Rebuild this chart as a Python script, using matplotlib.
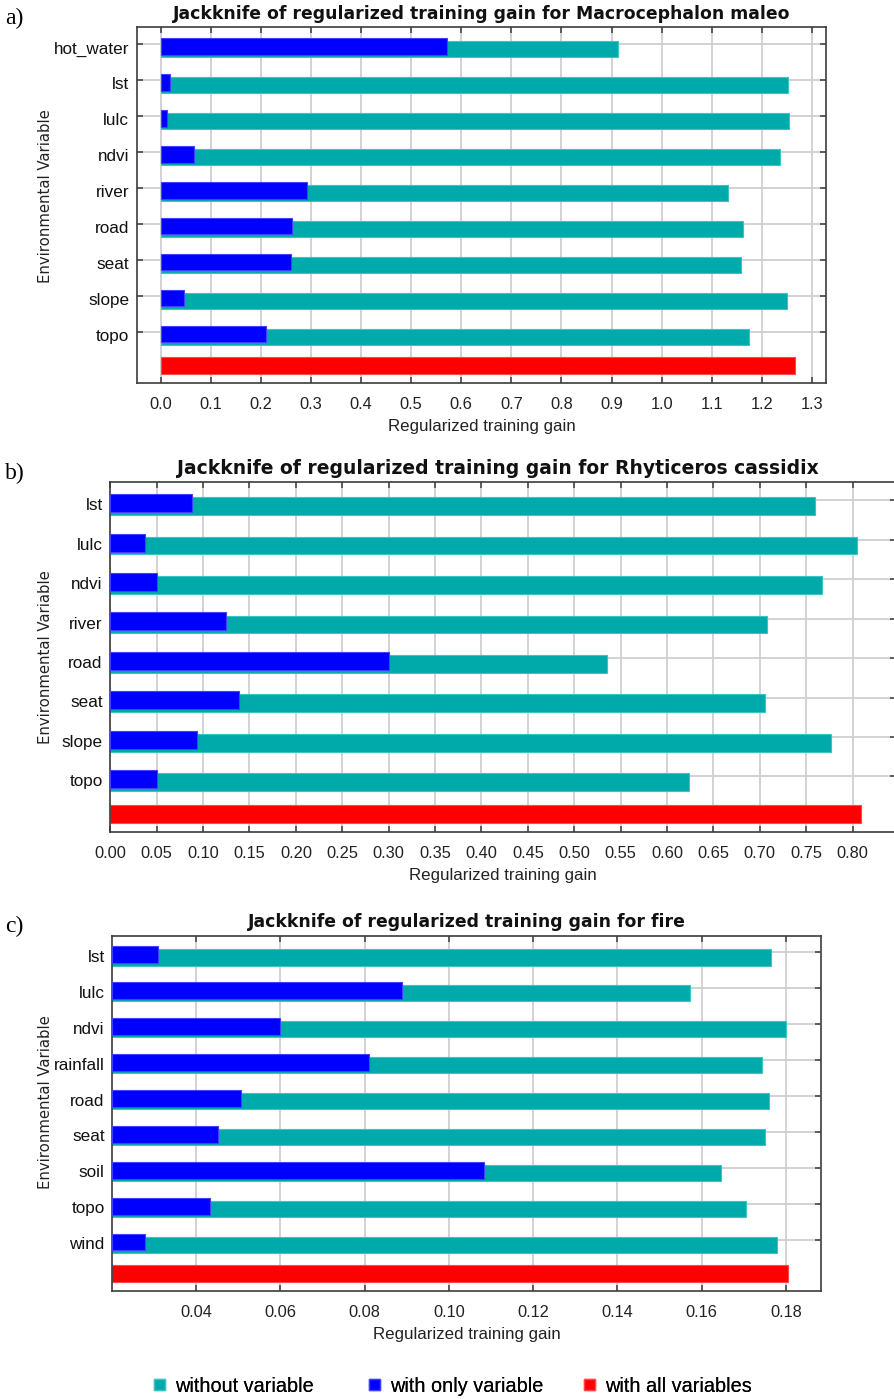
import matplotlib
matplotlib.use("Agg")
import matplotlib.pyplot as plt
from matplotlib.patches import Patch

# ---------------- data ----------------
vars_a = ["hot_water", "lst", "lulc", "ndvi", "river", "road", "seat", "slope", "topo"]
without_a = [0.912, 1.253, 1.255, 1.236, 1.133, 1.162, 1.158, 1.250, 1.175]
only_a = [0.571, 0.018, 0.013, 0.066, 0.293, 0.262, 0.260, 0.046, 0.210]
all_a = 1.266
ticks_a = [0.0, 0.1, 0.2, 0.3, 0.4, 0.5, 0.6, 0.7, 0.8, 0.9, 1.0, 1.1, 1.2, 1.3]
ticklabels_a = ["0.0", "0.1", "0.2", "0.3", "0.4", "0.5", "0.6", "0.7", "0.8", "0.9",
                "1.0", "1.1", "1.2", "1.3"]
title_a = "Jackknife of regularized training gain for Macrocephalon maleo"

vars_b = ["lst", "lulc", "ndvi", "river", "road", "seat", "slope", "topo"]
without_b = [0.759, 0.805, 0.767, 0.708, 0.535, 0.705, 0.777, 0.624]
only_b = [0.088, 0.037, 0.050, 0.125, 0.300, 0.139, 0.093, 0.050]
all_b = 0.809
ticks_b = [0.00, 0.05, 0.10, 0.15, 0.20, 0.25, 0.30, 0.35, 0.40, 0.45, 0.50, 0.55,
           0.60, 0.65, 0.70, 0.75, 0.80]
ticklabels_b = ["0.00", "0.05", "0.10", "0.15", "0.20", "0.25", "0.30", "0.35", "0.40",
                "0.45", "0.50", "0.55", "0.60", "0.65", "0.70", "0.75", "0.80"]
title_b = "Jackknife of regularized training gain for Rhyticeros cassidix"

vars_c = ["lst", "lulc", "ndvi", "rainfall", "road", "seat", "soil", "topo", "wind"]
without_c = [0.1765, 0.1573, 0.1799, 0.1742, 0.1760, 0.1749, 0.1645, 0.1706, 0.1778]
only_c = [0.0310, 0.0889, 0.0598, 0.0810, 0.0506, 0.0451, 0.1084, 0.0432, 0.0279]
all_c = 0.1804
ticks_c = [0.04, 0.06, 0.08, 0.10, 0.12, 0.14, 0.16, 0.18]
ticklabels_c = ["0.04", "0.06", "0.08", "0.10", "0.12", "0.14", "0.16", "0.18"]
title_c = "Jackknife of regularized training gain for fire"

legend_labels = ["without variable", "with only variable", "with all variables"]

# ---------------- style ----------------
TEAL = "#00AAAA"
TEAL_EDGE = "#3CC4C4"
BLUE = "#0000FF"
BLUE_EDGE = "#4040FF"
RED = "#FF0000"
RED_EDGE = "#FF4848"
GRID = "#CFCFCF"
FRAME = "#3C3C3C"
SANS = ["Liberation Sans", "DejaVu Sans"]

W, H = 894, 1399
fig = plt.figure(figsize=(W / 100, H / 100), dpi=100)


def rect(l, r, t, b):
    return [l / W, 1 - b / H, (r - l) / W, (b - t) / H]


def panel(box, names, without, only, allv, ticks, ticklabels, xlim, title,
          title_size, title_x, letter, ylab_x, ylab_y):
    ax = fig.add_axes(rect(*box))
    n = len(names)
    pos = list(range(n))
    base = xlim[0] if xlim[0] > 0 else 0.0
    ax.barh([p + 0.145 for p in pos], [v - base for v in without], left=base,
            height=0.45, color=TEAL, edgecolor=TEAL_EDGE, linewidth=0.8, zorder=2)
    ax.barh([p + 0.07 for p in pos], [v - base for v in only], left=base,
            height=0.46, color=BLUE, edgecolor=BLUE_EDGE, linewidth=0.8, zorder=3)
    ax.barh([n - 1 + 0.947], [allv - base], left=base, height=0.46,
            color=RED, edgecolor=RED_EDGE, linewidth=0.8, zorder=2)
    ax.set_xlim(*xlim)
    ax.set_ylim(n - 1 + 1.42, -0.46)
    # labels sit slightly below the tick marks, as in the original
    ax.set_yticks([p + 0.1 for p in pos])
    ax.set_yticklabels(names, fontsize=12.3, family=SANS, color="#111111")
    ax.set_yticks(pos, minor=True)
    ax.set_xticks(ticks)
    ax.set_xticklabels(ticklabels, fontsize=11.8, family=SANS, color="#222222")
    ax.grid(True, axis="x", color=GRID, linewidth=1.3, zorder=0)
    ax.grid(True, axis="y", which="minor", color=GRID, linewidth=1.3, zorder=0)
    ax.set_axisbelow(True)
    ax.tick_params(axis="x", direction="in", length=4.5, width=1.1, color=FRAME,
                   top=True, pad=10)
    ax.tick_params(axis="y", which="major", length=0, pad=5.5)
    ax.tick_params(axis="y", which="minor", direction="in", length=4.5, width=1.1,
                   color=FRAME, left=True, right=True)
    for s in ax.spines.values():
        s.set_color(FRAME)
        s.set_linewidth(1.2)
    ax.set_xlabel("Regularized training gain", fontsize=12.2, family=SANS,
                  color="#222222", labelpad=5)
    ax.set_ylabel("Environmental Variable", fontsize=10.7, family="DejaVu Sans",
                  color="#222222")
    ax.yaxis.set_label_coords(ylab_x, ylab_y)
    ax.set_title(title, fontsize=title_size, fontweight="bold", family="DejaVu Sans",
                 color="#111111", pad=6, x=title_x)
    fig.text(5 / W, 1 - box[2] / H + 9 / H, letter, fontsize=17,
             family=["Liberation Serif", "DejaVu Serif"], ha="left", va="center")
    return ax


panel((137, 826, 27.3, 382.7), vars_a, without_a, only_a, all_a, ticks_a,
      ticklabels_a, (-0.047, 1.328), title_a, 12.45, 0.5, "a)", -0.122, 0.525)
panel((110.3, 896, 482.3, 832.3), vars_b, without_b, only_b, all_b, ticks_b,
      ticklabels_b, (0.0, 0.8467), title_b, 13.5, 0.4935, "b)", -0.073, 0.5)
panel((112.3, 821, 935.7, 1290.7), vars_c, without_c, only_c, all_c, ticks_c,
      ticklabels_c, (0.0201, 0.1883), title_c, 12.4, 0.5, "c)", -0.084, 0.53)

handles = [Patch(facecolor=TEAL, edgecolor=TEAL_EDGE),
           Patch(facecolor=BLUE, edgecolor=BLUE_EDGE),
           Patch(facecolor=RED, edgecolor=RED_EDGE)]
legend_x = [153.5, 368.5, 583.5]
for h, lab, lx in zip(handles, legend_labels, legend_x):
    leg = fig.legend([h], [lab], loc="center left",
                     bbox_to_anchor=(lx / W, 1 - 1386 / H), frameon=False,
                     prop={"family": SANS, "size": 14.3}, borderpad=0,
                     borderaxespad=0, handlelength=0.6, handleheight=0.45,
                     handletextpad=0.5)
    fig.add_artist(leg)

fig.savefig("out.png", dpi=100)
